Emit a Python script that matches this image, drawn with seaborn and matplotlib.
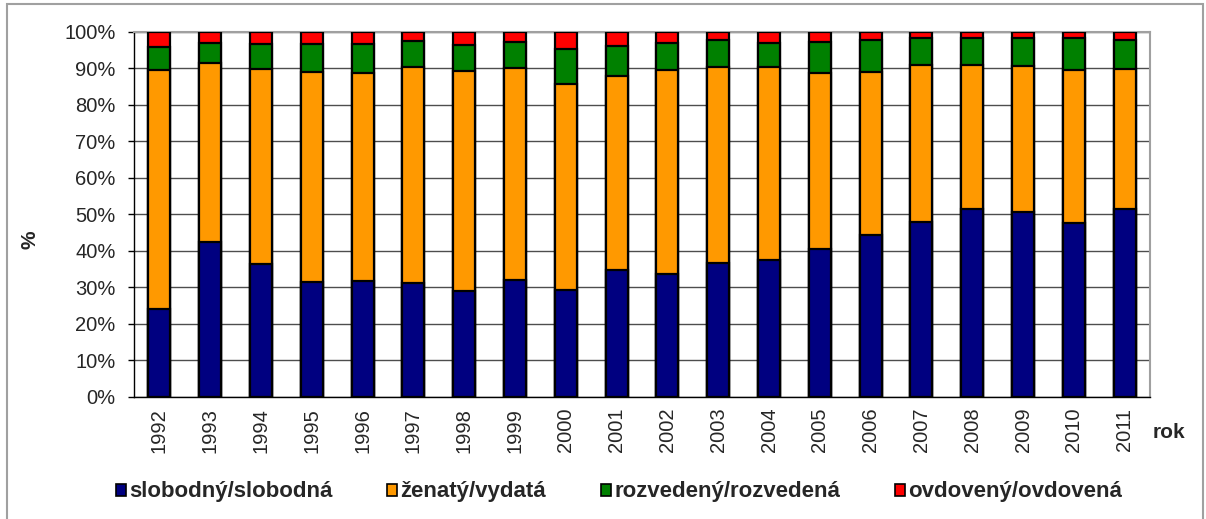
import numpy as np
import pandas as pd
import matplotlib
matplotlib.use("Agg")
import matplotlib.pyplot as plt
from matplotlib.patches import Patch, Rectangle
import seaborn as sns

years = [str(y) for y in range(1992, 2012)]
slobodny = [24.0, 42.4, 36.4, 31.4, 31.8, 31.1, 29.0, 31.9, 29.2, 34.6,
            33.6, 36.6, 37.4, 40.5, 44.3, 47.9, 51.3, 50.6, 47.5, 51.3]
zenaty = [65.4, 48.9, 53.3, 57.5, 57.0, 59.1, 60.3, 58.2, 56.5, 53.2,
          56.0, 53.8, 52.8, 48.1, 44.6, 43.0, 39.6, 39.9, 41.9, 38.4]
rozvedeny = [6.3, 5.6, 7.0, 7.8, 7.9, 7.3, 7.1, 7.0, 9.5, 8.3,
             7.3, 7.2, 6.6, 8.6, 8.7, 7.4, 7.4, 7.8, 8.9, 8.1]
ovdoveny = [4.3, 3.1, 3.3, 3.3, 3.3, 2.5, 3.6, 2.9, 4.8, 3.9,
            3.1, 2.4, 3.2, 2.8, 2.4, 1.7, 1.7, 1.7, 1.7, 2.2]

series_names = ["slobodný/slobodná", "ženatý/vydatá", "rozvedený/rozvedená", "ovdovený/ovdovená"]
series_vals = [slobodny, zenaty, rozvedeny, ovdoveny]
colors = ["#000080", "#FF9900", "#008000", "#FF0000"]

sns.set_theme(style="white")
plt.rcParams["font.family"] = ["Liberation Sans", "DejaVu Sans"]

W, H = 1206, 519
fig = plt.figure(figsize=(W / 100, H / 100), dpi=100)
ax = fig.add_axes([134 / W, 1 - 396.7 / H, (1150 - 134) / W, (396.7 - 31.7) / H])

# cumulative stacks, drawn from top-most down
cum = np.cumsum(np.array(series_vals), axis=0)
total = cum[-1]
cum_norm = cum / total * 100.0
for i in range(len(series_vals) - 1, -1, -1):
    df = pd.DataFrame({"rok": years, "val": cum_norm[i]})
    sns.barplot(data=df, x="rok", y="val", color=colors[i], saturation=1,
                width=0.43, edgecolor="black", linewidth=1.6, ax=ax, zorder=3)

ax.set_xlim(-0.5, len(years) - 0.5)
ax.set_ylim(0, 100)
ax.set_yticks(np.arange(0, 101, 10))
ax.set_yticklabels([f"{v}%" for v in range(0, 101, 10)], fontsize=14.5)
ax.set_xticks(np.arange(len(years)))
ax.set_xticklabels(years, rotation=90, fontsize=14.5)
ax.set_xticks(np.arange(-0.5, len(years), 1), minor=True)
ax.tick_params(axis="x", which="major", length=0, pad=8)
ax.tick_params(axis="x", which="minor", length=4.3, width=1, color="black", direction="out")
ax.tick_params(axis="y", which="major", length=4.3, width=1, color="black", direction="out", pad=9, left=True)
ax.set_xlabel("")
ax.set_ylabel("")
ax.yaxis.grid(True, color="#4d4d4d", lw=1)
ax.set_axisbelow(True)
for s in ["top", "right"]:
    ax.spines[s].set_color("#a0a0a0")
    ax.spines[s].set_linewidth(1.5)
for s in ["left", "bottom"]:
    ax.spines[s].set_color("black")
    ax.spines[s].set_linewidth(1)

fig.text(30 / W, 1 - 240 / H, "%", rotation=90, fontsize=15, fontweight="bold",
         ha="center", va="center")
fig.text(1153 / W, 1 - 433 / H, "rok", fontsize=15, fontweight="bold",
         ha="left", va="center")

handles = [Patch(facecolor=c, edgecolor="black", linewidth=1.2) for c in colors]
leg = fig.legend(handles, series_names, loc="center left",
                 bbox_to_anchor=(116 / W, 1 - 492 / H), ncol=4, frameon=False,
                 prop={"weight": "bold", "size": 16}, handlelength=0.45,
                 handleheight=0.45, handletextpad=0.15, columnspacing=2.45,
                 borderpad=0, borderaxespad=0)

fig.patches.append(Rectangle((7 / W, -0.02), (1203 - 7) / W, 1 - 4 / H + 0.02,
                             transform=fig.transFigure, fill=False,
                             edgecolor="#a0a0a0", lw=1.5, clip_on=False))

fig.savefig("out.png", dpi=100)
